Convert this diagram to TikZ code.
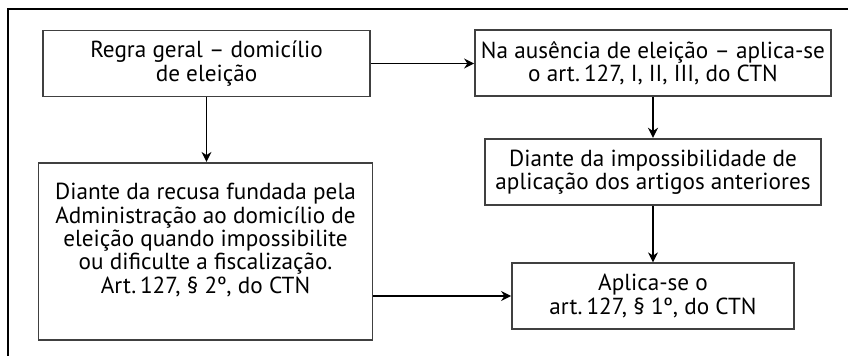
\documentclass[tikz,border=0pt]{standalone}
\usepackage{fontspec}
\setmainfont{PT Sans}
\usetikzlibrary{arrows.meta}

\tikzset{
  caixa/.style={draw=black!75, line width=0.9pt, inner sep=0pt, align=center,
    font=\fontsize{11.6pt}{11.7pt}\selectfont},
  seta/.style={line width=0.7pt, -{Stealth[length=5pt,width=5pt]}}
}

\begin{document}
\begin{tikzpicture}[x=0.5pt,y=-0.5pt]

\useasboundingbox (0,0) rectangle (848,356);

% moldura
\draw[line width=1pt] (8,356) -- (8,9.5) -- (848,9.5);

\node[caixa, minimum width=163.5pt, minimum height=33pt] (regra) at (206.5,63.5)
  {Regra geral – domicílio\\de eleição};
\node[caixa, minimum width=178pt, minimum height=33pt] (ausencia) at (653,63)
  {Na ausência de eleição – aplica-se\\o art.\,127, I, II, III, do CTN};
\node[caixa, minimum width=167pt, minimum height=88.5pt, text depth=13pt] (recusa) at (205.5,251.3)
  {Diante da recusa fundada pela\\Administração ao domicílio de\\eleição quando impossibilite\\ou dificulte a fiscalização.\\Art.\,127, § 2º, do CTN};
\node[caixa, minimum width=168.3pt, minimum height=33.3pt] (impossib) at (653,172)
  {Diante da impossibilidade de\\aplicação dos artigos anteriores};
\node[caixa, minimum width=141pt, minimum height=32.7pt] (aplica) at (653,296)
  {Aplica-se o\\art.\,127, § 1º, do CTN};

\draw[seta] (regra.east) -- (regra.east -| ausencia.west);
\draw[seta] (regra) -- (regra |- recusa.north);
\draw[seta] (ausencia) -- (impossib);
\draw[seta] (impossib) -- (aplica);
\draw[seta] (recusa.east |- aplica) -- (aplica.west);

\end{tikzpicture}
\end{document}
